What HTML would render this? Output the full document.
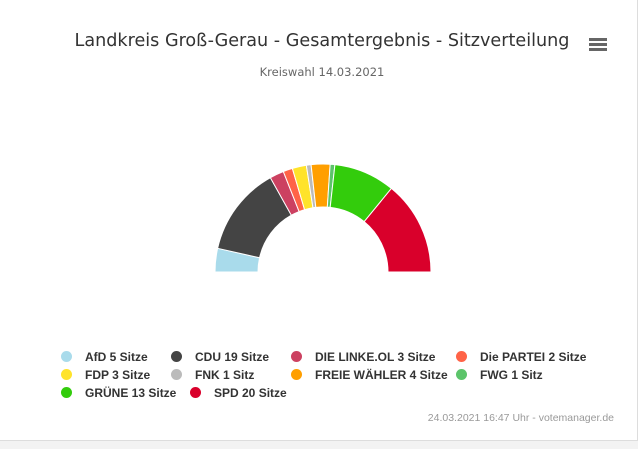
<!DOCTYPE html>
<html><head><meta charset="utf-8"><style>
body{margin:0;background:#fff;font-family:"Liberation Sans",sans-serif;}
#c{position:relative;width:644px;height:449px;overflow:hidden;background:#fff;}
.title{position:absolute;left:0;width:644px;top:31px;text-align:center;font-size:17.6px;color:#333;font-family:"DejaVu Sans",sans-serif;}
.sub{position:absolute;left:0;width:644px;top:65px;text-align:center;font-size:11.5px;color:#666;font-family:"DejaVu Sans",sans-serif;}
.leg{position:absolute;font-size:12px;font-weight:bold;color:#333;white-space:nowrap;}
.leg i{display:inline-block;width:11px;height:11px;border-radius:50%;margin-right:13px;vertical-align:-1px;}
.credit{position:absolute;right:30px;top:412px;font-size:10.5px;color:#999;}
</style></head><body><div id="c">
<div style="position:absolute;right:6px;top:0;width:1px;height:449px;background:#ddd"></div>
<div style="position:absolute;left:0;top:440px;width:638px;height:9px;background:#f3f3f3;border-top:1px solid #ddd"></div>
<div class="title">Landkreis Groß-Gerau - Gesamtergebnis - Sitzverteilung</div>
<svg style="position:absolute;left:589px;top:38px" width="18" height="14"><rect y="0" width="18" height="3" fill="#666"/><rect y="5" width="18" height="3" fill="#666"/><rect y="10" width="18" height="3" fill="#666"/></svg>
<div class="sub">Kreiswahl 14.03.2021</div>
<svg id="s" width="644" height="449" style="position:absolute;left:0;top:0"></svg>
<div class="leg" style="left:61px;top:350px"><i style="background:#a9dbeb"></i>AfD 5 Sitze</div>
<div class="leg" style="left:171px;top:350px"><i style="background:#444"></i>CDU 19 Sitze</div>
<div class="leg" style="left:291px;top:350px"><i style="background:#cc4161"></i>DIE LINKE.OL 3 Sitze</div>
<div class="leg" style="left:456px;top:350px"><i style="background:#ff6347"></i>Die PARTEI 2 Sitze</div>
<div class="leg" style="left:61px;top:368px"><i style="background:#ffe32a"></i>FDP 3 Sitze</div>
<div class="leg" style="left:171px;top:368px"><i style="background:#bbb"></i>FNK 1 Sitz</div>
<div class="leg" style="left:291px;top:368px"><i style="background:#ff9f00"></i>FREIE WÄHLER 4 Sitze</div>
<div class="leg" style="left:456px;top:368px"><i style="background:#5cc46a"></i>FWG 1 Sitz</div>
<div class="leg" style="left:61px;top:386px"><i style="background:#33cc0c"></i>GRÜNE 13 Sitze</div>
<div class="leg" style="left:190px;top:386px"><i style="background:#d9002b"></i>SPD 20 Sitze</div>
<div class="credit">24.03.2021 16:47 Uhr - votemanager.de</div>
</div>
<script>
var d=[[5,'#a9dbeb'],[19,'#444'],[3,'#cc4161'],[2,'#ff6347'],[3,'#ffe32a'],[1,'#bbb'],[4,'#ff9f00'],[1,'#5cc46a'],[13,'#33cc0c'],[20,'#d9002b']];
var cx=323,cy=272,R=108,r=65,t=71,c=0,h='';
function p(a,rad){return [cx-rad*Math.cos(a),cy-rad*Math.sin(a)];}
d.forEach(function(x){var a0=c/t*Math.PI,a1=(c+x[0])/t*Math.PI;c+=x[0];
var A=p(a0,R),B=p(a1,R),C=p(a1,r),D=p(a0,r);
h+='<path d="M'+A+' A'+R+','+R+' 0 0 1 '+B+' L'+C+' A'+r+','+r+' 0 0 0 '+D+' Z" fill="'+x[1]+'" stroke="#fff" stroke-width="1"/>';});
document.getElementById('s').innerHTML=h;
</script>
</body></html>
